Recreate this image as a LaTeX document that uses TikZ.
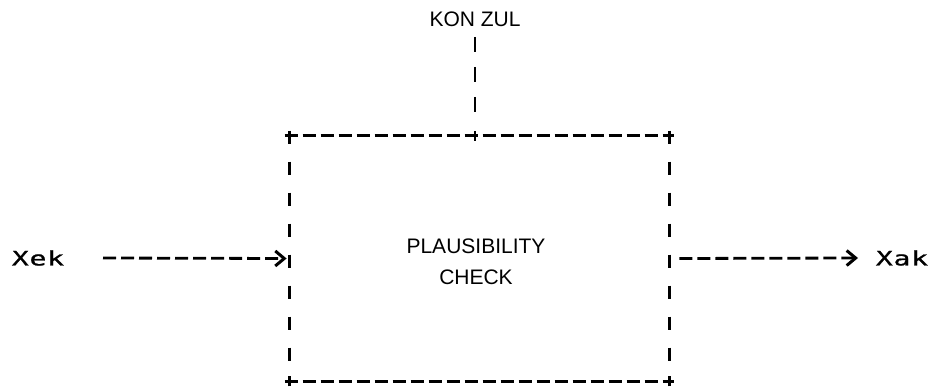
\documentclass[tikz,border=0pt]{standalone}
\usepackage{fontspec}
\setmainfont{Liberation Sans}
\newfontfamily\termfont[FakeStretch=1.4, LetterSpace=4, FakeBold=1]{DejaVu Sans Mono}
\usetikzlibrary{arrows.meta}
\begin{document}
\begin{tikzpicture}[x=1pt, y=1pt, line width=2.8pt,
  hdash/.style={dash pattern=on 13pt off 5pt},
  vdash/.style={dash pattern=on 13pt off 18pt},
  cdash/.style={dash pattern=on 15pt off 15pt},
  flow/.style={hdash, -{Straight Barb[length=9pt, width=15pt, line width=3pt]}},
  term/.style={font=\termfont\fontsize{20}{20}\selectfont},
  caption/.style={font=\fontsize{21}{31}\selectfont, align=center}]
  \useasboundingbox (0,0) rectangle (941,389);
  \node[minimum width=377pt, minimum height=243pt, inner sep=0pt] (check) at (479.5,130.5) {};
  \node[caption] (name) at (476,127) {PLAUSIBILITY\\CHECK};
  \node[caption] (kon) at (475,370) {KON ZUL};
  \node[term] (xek) at (38,131) {Xek};
  \node[term] (xak) at (902,131) {Xak};
  % Rahmen aus Strichen, Ecken als Kreuze
  \draw[hdash] ([xshift=-5pt]check.north west) -- ([xshift=5pt]check.north east);
  \draw[hdash] ([xshift=-5pt]check.south west) -- ([xshift=5pt]check.south east);
  \draw[vdash] ([yshift=5pt]check.north west) -- (check.south west);
  \draw[vdash] ([yshift=5pt]check.north east) -- (check.south east);
  \foreach \c in {check.north west, check.north east, check.south west, check.south east}
    \draw ([yshift=-5pt]\c) -- ([yshift=5pt]\c);
  \draw ([xshift=-4.5pt, yshift=-5pt]check.north) -- ([xshift=-4.5pt, yshift=5pt]check.north);
  \draw[cdash] ([yshift=-18pt]kon.center) -- ([xshift=-4.5pt, yshift=24pt]check.north);
  \coordinate (in) at (103,131);
  \coordinate (out) at (858,131);
  \draw[flow] (in) -- ([xshift=-3pt]check.west);
  \draw[flow] ([xshift=10pt]check.east) -- (out);
\end{tikzpicture}
\end{document}
